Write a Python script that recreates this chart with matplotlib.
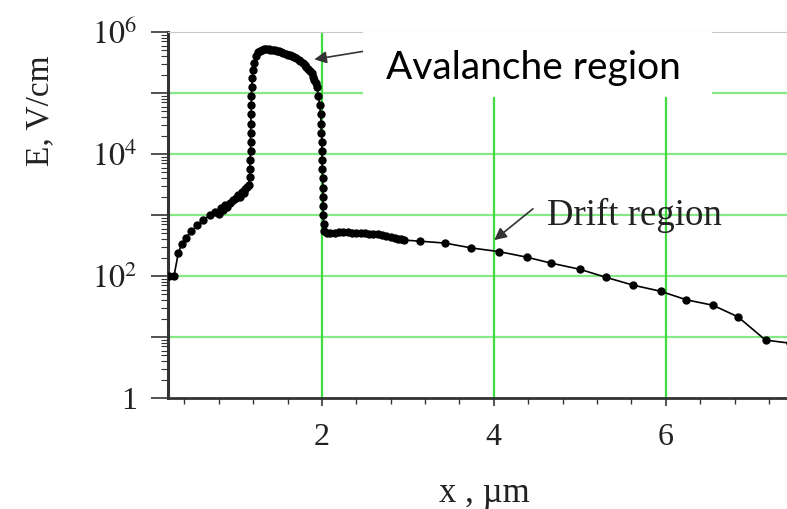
import numpy as np
import matplotlib.pyplot as plt
from matplotlib.patches import Rectangle
from matplotlib.ticker import FixedLocator, FixedFormatter, LogLocator, NullFormatter

# field profile E(x)
x_um = [
    0.22, 0.28, 0.33, 0.37, 0.42, 0.48, 0.55, 0.62, 0.70, 0.76,
    0.80, 0.83, 0.85, 0.87, 0.90, 0.93, 0.97, 1.00, 1.03, 1.05,
    1.07, 1.09, 1.11, 1.13, 1.15, 1.16, 1.16, 1.165, 1.17, 1.17,
    1.17, 1.175, 1.175, 1.18, 1.18, 1.185, 1.19, 1.20, 1.21, 1.23,
    1.26, 1.28, 1.30, 1.33, 1.35, 1.38, 1.40, 1.43, 1.45, 1.48,
    1.50, 1.53, 1.55, 1.58, 1.60, 1.63, 1.65, 1.68, 1.70, 1.73,
    1.75, 1.78, 1.80, 1.82, 1.84, 1.86, 1.88, 1.90, 1.91, 1.93,
    1.94, 1.96, 1.975, 1.985, 1.99,
    1.995, 2.00, 2.00, 2.005, 2.005, 2.01, 2.01, 2.01, 2.015, 2.015,
    2.02, 2.03, 2.06, 2.10, 2.15, 2.20, 2.25, 2.30, 2.35, 2.40,
    2.45, 2.50, 2.55, 2.60, 2.65, 2.70, 2.75, 2.80, 2.85, 2.88,
    2.92, 2.95, 3.14, 3.43, 3.74, 4.06, 4.38, 4.67, 5.00, 5.30,
    5.62, 5.94, 6.24, 6.55, 6.84, 7.16, 7.45,
]
E_vcm = [
    100, 100, 240, 331, 427, 537, 676, 832, 1000, 1100,
    1050, 1320, 1200, 1450, 1350, 1580, 1740, 1900, 2140, 2000,
    2400, 2290, 2630, 2880, 3160, 4170, 5620, 7940, 1.12e4, 1.58e4,
    2.24e4, 3.16e4, 4.47e4, 6.31e4, 8.91e4, 1.26e5, 1.78e5, 2.40e5, 3.16e5, 3.98e5,
    4.68e5, 4.95e5, 5.13e5, 5.20e5, 5.25e5, 5.20e5, 5.13e5, 5.06e5, 5.01e5, 4.90e5,
    4.79e5, 4.68e5, 4.57e5, 4.42e5, 4.27e5, 4.12e5, 3.98e5, 3.85e5, 3.72e5, 3.50e5,
    3.31e5, 3.10e5, 2.88e5, 2.70e5, 2.51e5, 2.30e5, 2.09e5, 1.85e5, 1.66e5, 1.45e5,
    1.26e5, 8.91e4, 6.31e4, 4.47e4, 3.16e4,
    2.24e4, 1.58e4, 1.12e4, 7940, 5620, 3980, 2820, 2000, 1410, 1000,
    708, 550, 513, 513, 513, 525, 525, 525, 513, 513,
    501, 501, 490, 479, 479, 468, 457, 437, 417, 398,
    398, 389, 372, 347, 288, 251, 204, 162, 129, 95.5,
    70.8, 56.2, 40.7, 33.1, 21.4, 8.9, 7.9,
]

xticks = [2, 4, 6]
ydecades = [1, 10, 1e2, 1e3, 1e4, 1e5, 1e6]
ylabels = ["1", "", "$10^2$", "", "$10^4$", "", "$10^6$"]

plt.rcParams["font.family"] = "Liberation Serif"
plt.rcParams["mathtext.fontset"] = "stix"

fig = plt.figure(figsize=(7.87, 5.09), dpi=100)
ax = fig.add_axes([168 / 787, 1 - 398 / 509, 1 - 168 / 787, (398 - 32) / 509])

ax.set_yscale("log")
ax.set_xlim(0.21, 7.41)
ax.set_ylim(1, 1e6)

# grid
for y in ydecades[1:-1]:
    ax.axhline(y, color="#86e886", lw=1.6, zorder=0)
for x in xticks:
    ax.axvline(x, color="#3fdc3f", lw=1.6, zorder=0)

ax.plot(x_um, E_vcm, color="black", lw=1.2, marker="o", ms=5,
        mec="black", mfc="black", zorder=3)

# ticks
ax.xaxis.set_major_locator(FixedLocator(xticks))
ax.xaxis.set_minor_locator(FixedLocator(np.arange(0.4, 7.5, 0.4)))
ax.yaxis.set_major_locator(FixedLocator(ydecades))
ax.yaxis.set_major_formatter(FixedFormatter(ylabels))
ax.yaxis.set_minor_locator(LogLocator(base=10, subs=np.arange(2, 10), numticks=20))
ax.yaxis.set_minor_formatter(NullFormatter())
ax.tick_params(axis="x", which="major", length=6, width=1.2, labelsize=23, pad=12,
               color="#333333", labelcolor="#222222")
ax.tick_params(axis="x", which="minor", length=4, width=1.0, color="#333333")
ax.tick_params(axis="y", which="major", length=12, width=1.2, labelsize=23, pad=10,
               color="#333333", labelcolor="#222222")
ax.tick_params(axis="y", which="minor", length=5, width=0.8, color="#333333")

ax.spines["right"].set_visible(False)
ax.spines["top"].set_color("#c8c8c8")
ax.spines["left"].set_color("#333333")
ax.spines["left"].set_linewidth(2.2)
ax.spines["bottom"].set_color("#333333")
ax.spines["bottom"].set_linewidth(2.0)

fig.text(484 / 787, 1 - 493 / 509, "x , \u00b5m", fontsize=25, ha="center",
         va="center", color="#222222")
fig.text(40 / 787, 1 - 111 / 509, "E, V/cm", fontsize=24, rotation=90,
         ha="center", va="center", color="#222222")

# annotations
ax.annotate("", xy=(3.98, 363), xytext=(4.48, 1350),
            arrowprops=dict(arrowstyle="-|>", color="#333333", lw=1.2,
                            mutation_scale=18))
ax.text(4.62, 1000, "Drift region", fontsize=26.5, ha="left", va="center",
        color="#222222", zorder=4)

ax.annotate("", xy=(1.88, 3.5e5), xytext=(2.55, 5.0e5),
            arrowprops=dict(arrowstyle="-|>", color="#333333", lw=1.2,
                            mutation_scale=18), zorder=4)
fig.patches.append(Rectangle((363 / 787, 1 - 97 / 509), (712 - 363) / 787, 65 / 509,
                             transform=fig.transFigure, facecolor="white",
                             edgecolor="none", zorder=5))
fig.text(533 / 787, 1 - 68 / 509, "Avalanche region", fontsize=28,
         family="Lato", ha="center", va="center", zorder=6)

fig.savefig("out.png", dpi=100)
